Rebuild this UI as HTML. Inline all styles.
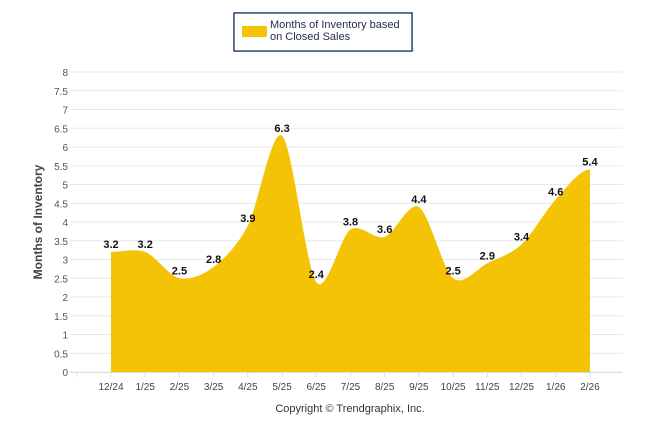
<!DOCTYPE html>
<html><head><meta charset="utf-8"><style>
body{margin:0;background:#fff;font-family:"Liberation Sans",Arial,sans-serif;}
svg text{font-family:"Liberation Sans",Arial,sans-serif;}
</style></head><body>
<svg id="c" width="646" height="434" xmlns="http://www.w3.org/2000/svg">
<rect x="234" y="13" width="178" height="38" fill="#fff" stroke="#1f3864" stroke-width="1.3"/>
<rect x="236" y="48" width="178" height="3" fill="#bbb" opacity="0.5"/>
<rect x="234" y="13" width="178" height="38" fill="#fff" stroke="#1f3864" stroke-width="1.3"/>
<rect x="242" y="26" width="25" height="11" fill="#f5c305"/>
<text x="270" y="28" font-size="11" fill="#1f2d4a">Months of Inventory based</text>
<text x="270" y="40" font-size="11" fill="#1f2d4a">on Closed Sales</text>
<g id="grid"></g>
<g id="area"></g>
<g id="labels"></g>
<text x="42" y="222" font-size="12" font-weight="bold" fill="#444" transform="rotate(-90 42 222)" text-anchor="middle">Months of Inventory</text>
<text x="350" y="412" font-size="11" fill="#333" text-anchor="middle">Copyright © Trendgraphix, Inc.</text>
</svg>
<script>
const categories=["12/24","1/25","2/25","3/25","4/25","5/25","6/25","7/25","8/25","9/25","10/25","11/25","12/25","1/26","2/26"];
const values=[3.2,3.2,2.5,2.8,3.9,6.3,2.4,3.8,3.6,4.4,2.5,2.9,3.4,4.6,5.4];
const yTicks=[0,0.5,1,1.5,2,2.5,3,3.5,4,4.5,5,5.5,6,6.5,7,7.5,8];
const NS="http://www.w3.org/2000/svg";
const x0=111,dx=34.21,yb=372,yt=72,ymax=8;
const X=i=>x0+i*dx, Y=v=>yb-(v/ymax)*(yb-yt);
function mk(t,a,p){const e=document.createElementNS(NS,t);for(const k in a)e.setAttribute(k,a[k]);p.appendChild(e);return e;}
const grid=document.getElementById('grid'),area=document.getElementById('area'),labels=document.getElementById('labels');
yTicks.forEach(v=>{
 const l=mk('line',{x1:70,x2:623,y1:Y(v),y2:Y(v),stroke:'#e8e8e8','stroke-width':1},grid);
 
 
 const t=mk('text',{x:68,y:Y(v)+4,'font-size':10,fill:'#555','text-anchor':'end'},grid);
 t.textContent=v;
 
 
});
mk('line',{x1:70,x2:623,y1:yb+0.5,y2:yb+0.5,stroke:'#ddd'},grid);
[x0-dx].concat(categories.map((c,i)=>X(i))).forEach(x=>mk('line',{x1:x,x2:x,y1:yb,y2:yb+5,stroke:'#ddd'},grid));
categories.forEach((c,i)=>{
 const t=mk('text',{x:X(i),y:390,'font-size':10,fill:'#444','text-anchor':'middle'},grid);
 t.textContent=c;
 
 
});
const pts=values.map((v,i)=>[X(i),Y(v)]);
let d=`M${pts[0][0]},${yb} L${pts[0][0]},${pts[0][1]}`;
const s=0.3;
for(let i=0;i<pts.length-1;i++){
 const p0=pts[Math.max(i-1,0)],p1=pts[i],p2=pts[i+1],p3=pts[Math.min(i+2,pts.length-1)];
 const c1=[p1[0]+dx*s,p1[1]+(p2[1]-p0[1])*s*(i==0?0:0.5)];
 const c2=[p2[0]-dx*s,p2[1]-(p3[1]-p1[1])*s*(i+1==pts.length-1?0:0.5)];
 d+=` C${c1[0]},${c1[1]} ${c2[0]},${c2[1]} ${p2[0]},${p2[1]}`;
}
d+=` L${pts[pts.length-1][0]},${yb} Z`;
const a=mk('path',{d:d,fill:'#f5c305'},area);


values.forEach((v,i)=>{
 const t=mk('text',{x:X(i),y:Y(v)-4,'font-size':11,'font-weight':'bold',fill:'#111','text-anchor':'middle'},labels);
 t.textContent=v.toFixed(1);
 
 
});
</script>
</body></html>
